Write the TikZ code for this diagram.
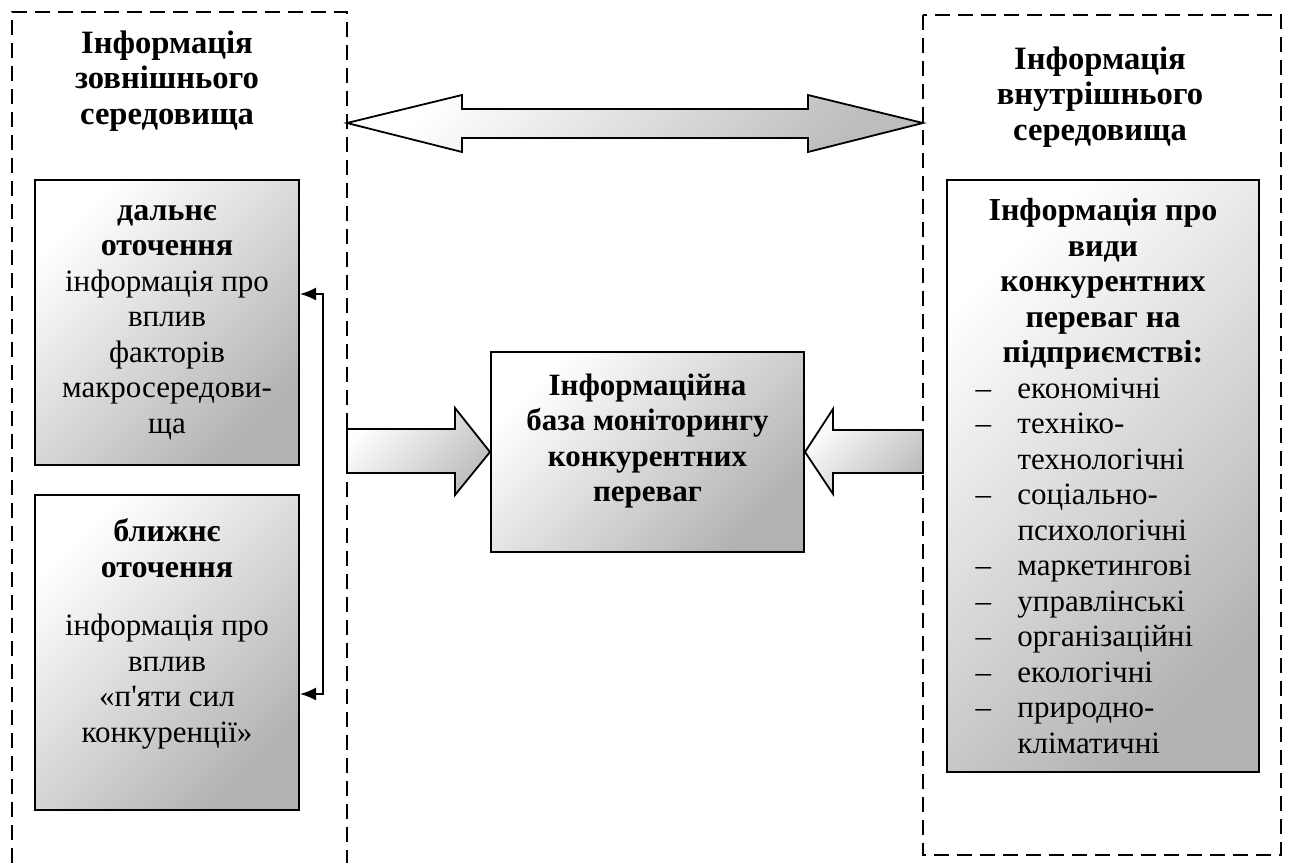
\documentclass[tikz,border=0pt]{standalone}
\usepackage{fontspec}
\setmainfont{Liberation Serif}[Ligatures=TeXOff]
\usetikzlibrary{positioning, arrows.meta}
\definecolor{color_line}{HTML}{000000}
\definecolor{color_shade}{HTML}{B2B2B2}
\definecolor{color_arrow}{HTML}{BDBDBD}
\tikzset{
  env_frame/.style={draw=color_line, line width=1pt, dash pattern=on 7.5pt off 4pt},
  info_box/.style={draw=color_line, line width=1pt, top color=white, bottom color=color_shade, shading angle=45, inner sep=0pt},
  box_text/.style={align=center, inner sep=0pt, font=\fontsize{15.5pt}{17.75pt}\selectfont},
  heading_text/.style={box_text, font=\fontsize{16.3pt}{17.75pt}\selectfont\bfseries},
  flow_arrow/.style={draw=color_line, line width=0.9pt, top color=white, bottom color=color_arrow, shading angle=45},
  link_arrow/.style={{Latex[length=8pt, width=6.5pt]}-{Latex[length=8pt, width=6.5pt]}, draw=color_line, line width=0.9pt},
}
\newcommand{\kindline}[2]{\makebox[127.5pt][l]{\makebox[21pt][l]{#1}#2}}
\newcommand{\boxhead}[1]{{\fontsize{16pt}{17.75pt}\selectfont\bfseries #1}}

\begin{document}
\begin{tikzpicture}[x=0.5pt, y=-0.5pt]
    \useasboundingbox (0,0) rectangle (1291,863);
    % environment frames
    \draw[env_frame] (12,863) -- (12,12) -- (347,12) -- (347,863);
    \draw[env_frame] (923,15) rectangle (1281,855);
    \node[heading_text] (outer_head) at (167,81) {Інформація\\ зовнішнього\\ середовища};
    \node[heading_text] (inner_head) at (1100,97) {Інформація\\ внутрішнього\\ середовища};
    % exchange between the two environments
    \draw[flow_arrow] (347,123) -- (462,95) -- (462,109) -- (808,109) -- (808,95) -- (923,123)
      -- (808,152) -- (808,138) -- (462,138) -- (462,152) -- cycle;
    % outer environment
    \node[info_box, minimum width=132pt, minimum height=142.5pt] (far_env) at (167,322.5) {};
    \node[box_text] (far_text) at (far_env.center) {\boxhead{дальнє}\\ \boxhead{оточення}\\ інформація про\\ вплив\\ факторів\\ макросередови-\\ ща};
    \node[info_box, minimum width=132pt, minimum height=157.5pt, below=14pt of far_env] (near_env) {};
    \node[box_text] (near_text) at (167,634) {\boxhead{ближнє}\\ \boxhead{оточення}\\[11.5pt] інформація про\\ вплив\\ «п'яти сил\\ конкуренції»};
    \coordinate (link_top) at (323,294);
    \coordinate (link_bot) at (323,694);
    \draw[link_arrow] (far_env.east |- link_top) -- (link_top) -- (link_bot) -- (near_env.east |- link_bot);
    % monitoring base
    \node[info_box, minimum width=156.5pt, minimum height=100pt] (base) at (647.5,452) {};
    \node[box_text, font=\fontsize{15.5pt}{17.75pt}\selectfont\bfseries] (base_text) at (647.5,441) {Інформаційна\\ база моніторингу\\ конкурентних\\ переваг};
    \draw[flow_arrow] (347,429) -- (455,429) -- (455,408) -- (base.west) -- (455,495) -- (455,473) -- (347,473) -- cycle;
    \draw[flow_arrow] (923,430) -- (833,430) -- (833,409) -- (base.east) -- (833,494) -- (833,473) -- (923,473) -- cycle;
    % inner environment
    \node[info_box, minimum width=156pt, minimum height=296pt] (kinds) at (1103,476) {};
    \node[box_text] (kinds_text) at (kinds.center) {\boxhead{Інформація про}\\ \boxhead{види}\\ \boxhead{конкурентних}\\
      \boxhead{переваг на}\\ \boxhead{підприємстві:}\\
      \kindline{–}{економічні}\\ \kindline{–}{техніко-}\\ \kindline{}{технологічні}\\
      \kindline{–}{соціально-}\\ \kindline{}{психологічні}\\ \kindline{–}{маркетингові}\\
      \kindline{–}{управлінські}\\ \kindline{–}{організаційні}\\ \kindline{–}{екологічні}\\
      \kindline{–}{природно-}\\ \kindline{}{кліматичні}};
\end{tikzpicture}
\end{document}
